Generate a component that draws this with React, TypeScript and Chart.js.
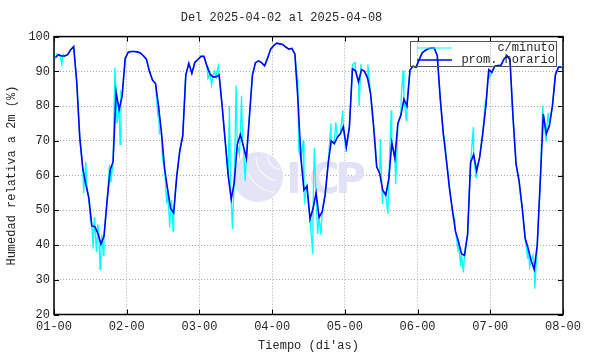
import React, { useEffect, useRef } from "react";
import { Chart, registerables } from "chart.js";

Chart.register(...registerables);

// ---- data ----
const titleText = "Del 2025-04-02 al 2025-04-08";
const xTitle = "Tiempo (di'as)";
const yTitle = "Humedad relativa a 2m (%)";
const dayLabels = ["01-00", "02-00", "03-00", "04-00", "05-00", "06-00", "07-00", "08-00"];
const seriesNames = ["c/minuto", "prom. horario"];

// hourly averages (hour i plotted at i + 0.5)
const horario = [
  // day 1
  94, 94.8, 94.4, 94.4, 94.8, 96.2, 97.1, 87, 71, 62, 57.5, 53.5, 45.5, 45.3, 43.3, 40.3, 42.5, 52.5, 61.5, 64, 84, 79, 83, 93.7,
  // day 2
  95.5, 95.7, 95.7, 95.6, 95.3, 94.5, 93.5, 90, 87.5, 86.5, 80, 72, 62, 56, 50.5, 49.3, 59.7, 67, 71.5, 89, 92.3, 89.4, 92.6, 93.4,
  // day 3
  94.3, 94.3, 91.5, 89.2, 88.4, 88.4, 89, 80, 70, 60, 53.2, 58, 69, 71.8, 68.5, 65, 77, 89, 92.5, 93, 92.5, 91.6, 93.8, 96.4,
  // day 4
  97.4, 98.1, 97.9, 97.7, 97, 96.4, 96.6, 95, 82, 65, 55.8, 57, 47.5, 50.5, 55, 48, 49.5, 54.5, 63.5, 70, 69.2, 71, 72, 74,
  // day 5
  68.3, 74, 90.7, 90.2, 87, 90.5, 90, 88, 83.5, 74, 62.5, 60.6, 55.8, 54.4, 59, 69.5, 65, 75, 77.4, 82, 80, 90.4, 91.5, 91.2,
  // day 6
  93.3, 95.3, 96, 96.5, 96.7, 96.7, 94.5, 82, 72, 64.5, 56.5, 50, 44, 41, 37.5, 37, 43, 63.8, 66, 61.4, 65.3, 72, 79.7, 90.5,
  // day 7
  89.7, 91.5, 91.7, 91.7, 93.5, 94.5, 93.3, 76.8, 63.3, 58.5, 51, 42, 39, 35.5, 33, 40, 58.5, 77.7, 72, 74.4, 80, 89, 91.2, 91.2,
];

// per-minute readings as [hour, value]
const minuto: [number, number][] = [
  [0, 93.2], [0.5, 94], [1, 95], [1.5, 94.8], [2, 94.6], [2.6, 92], [3, 94.8], [3.5, 94.4], [4.5, 94.8], [5.5, 96.2], [6.5, 97.1],
  [7.5, 87], [8.5, 71], [9.5, 62], [9.8, 55], [10.5, 64], [10.8, 57.5], [11.5, 53.5], [12, 47], [12.5, 45.5], [12.9, 39], [13.3, 48],
  [13.5, 45.3], [14, 38], [14.5, 46], [14.8, 43], [15.2, 33], [15.5, 40.3], [15.8, 43], [16.3, 37], [16.5, 42.5], [17.5, 52.5],
  [18.3, 63], [18.5, 61.5], [18.8, 58], [19.5, 64], [20.1, 91], [20.5, 84], [20.8, 75], [21.5, 79], [21.8, 69], [22.1, 84], [22.5, 83], [23.5, 93.7],
  [24.5, 95.5], [25.5, 95.7], [26.5, 95.7], [27.5, 95.6], [28.5, 95.3], [29.5, 94.5], [30.5, 93.5], [31.5, 90], [32.5, 87.5], [33.5, 86.5],
  [34.2, 78], [34.5, 80], [34.8, 72], [35.5, 72], [35.8, 65], [36.5, 62], [37.2, 52], [37.5, 56], [38.2, 45], [38.5, 50.5], [38.8, 53],
  [39.3, 44], [39.5, 49.3], [39.8, 52], [40.5, 59.7], [41.5, 67], [42.5, 71.5], [43.5, 89], [44.5, 92.3], [45.5, 89.4], [46.5, 92.6], [47.5, 93.4],
  [48.5, 94.3], [49.5, 94.3], [50.5, 91.5], [50.8, 88], [51.5, 89.2], [52, 86], [52.5, 88.4], [53, 90], [53.5, 88.4], [54.2, 91.5], [54.5, 89],
  [55.5, 80], [56.5, 70], [57.5, 60], [57.9, 80], [58.3, 55], [58.5, 53.2], [58.9, 44.6], [59.4, 57], [59.5, 58], [60.1, 86], [60.5, 69],
  [61.2, 66], [61.5, 71.8], [61.9, 83], [62.2, 70], [62.5, 68.5], [63.1, 58.5], [63.5, 65], [64.5, 77], [65.5, 89], [66.5, 92.5], [67.5, 93],
  [68.5, 92.5], [69.5, 91.6], [70.5, 93.8], [71.5, 96.4],
  [72.5, 97.4], [73.5, 98.1], [74.5, 97.9], [75.5, 97.7], [76.5, 97], [77.5, 96.4], [78.5, 96.6], [79.5, 95], [80.3, 88], [80.5, 82], [80.8, 67],
  [81.5, 65], [82.2, 70], [82.5, 55.8], [82.7, 52.8], [83.5, 57], [84, 52], [84.5, 47.5], [84.8, 44], [85.4, 37.4], [85.5, 50.5], [85.9, 68],
  [86.5, 55], [87, 43.2], [87.5, 48], [88.1, 43], [88.5, 49.5], [89.5, 54.5], [90.5, 63.5], [91.4, 75], [91.5, 70], [92.5, 69.2], [93, 75.3],
  [93.5, 71], [94.5, 72], [95.3, 78.7], [95.5, 74],
  [96.4, 67], [96.5, 68.3], [97.5, 74], [98.5, 90.7], [98.6, 92], [99.4, 92.5], [99.5, 90.2], [100.5, 87], [100.7, 80], [101.3, 92], [101.5, 90.5],
  [102.5, 90], [103.5, 88], [103.6, 92], [104.5, 83.5], [105.5, 74], [106, 70], [106.5, 62.5], [107.5, 60.6], [107.7, 70.5], [108.4, 52],
  [108.5, 55.8], [109.5, 54.4], [110.2, 49], [110.5, 59], [111.3, 78.7], [111.5, 69.5], [112.5, 65], [112.8, 57.6], [113.5, 75], [114.5, 77.4],
  [114.6, 82.5], [115.2, 90.2], [115.5, 82], [116.3, 75.8], [116.5, 80], [117.5, 90.4], [118.5, 91.5], [119.5, 91.2],
  [120.5, 93.3], [121.5, 95.3], [122.5, 96], [123.5, 96.5], [124.5, 96.7], [125.5, 96.7], [126.5, 94.5], [127.5, 82], [128.5, 72], [129, 70],
  [129.5, 64.5], [130.2, 60], [130.5, 56.5], [131.5, 50], [132.3, 47], [132.5, 44], [133.3, 39], [133.5, 41], [134.2, 34], [134.5, 37.5],
  [135.1, 32.2], [135.5, 37], [135.8, 40], [136.5, 43], [137.5, 63.8], [138.4, 73.9], [138.5, 66], [139.3, 59.5], [139.5, 61.4], [140.5, 65.3],
  [141.5, 72], [142.3, 80.6], [142.5, 79.7], [143.5, 90.5], [143.8, 88.3],
  [144.5, 89.7], [145.5, 91.5], [146.5, 91.7], [147.5, 91.7], [148.5, 93.5], [149.5, 94.5], [150.5, 93.3], [151.5, 76.8], [152.2, 68], [152.5, 63.3],
  [153.5, 58.5], [154, 54], [154.5, 51], [155.2, 45], [155.5, 42], [156.4, 36], [156.5, 39], [157, 33.6], [157.5, 35.5], [158.1, 37], [158.5, 33],
  [158.7, 27.4], [159.5, 40], [160.5, 58.5], [161.3, 80], [161.5, 77.7], [162.4, 70], [162.5, 72], [163.1, 78], [163.5, 74.4], [164.5, 80],
  [165.5, 89], [166.5, 91.2], [167.5, 91.2], [168, 90.5],
];

const FONT_FAMILY = "'Liberation Mono', 'DejaVu Sans Mono', monospace";
const TEXT_COLOR = "#262626";

const bgPlugin = {
  id: "bg",
  beforeDraw(chart: any) {
    const ctx = chart.ctx;
    ctx.save();
    ctx.fillStyle = "#ffffff";
    ctx.fillRect(0, 0, chart.width, chart.height);
    ctx.restore();
  },
};

const watermarkPlugin = {
  id: "watermark",
  beforeDatasetsDraw(chart: any) {
    const ctx = chart.ctx;
    ctx.save();
    const cx = 258, cy = 177, r = 25;
    ctx.fillStyle = "#e4e4f7";
    ctx.beginPath();
    ctx.arc(cx, cy, r, 0, Math.PI * 2);
    ctx.fill();
    ctx.strokeStyle = "#f4f4fc";
    ctx.lineWidth = 1.5;
    ctx.beginPath();
    ctx.arc(cx + 22, cy - 20, 24, Math.PI * 0.55, Math.PI * 1.0);
    ctx.stroke();
    ctx.beginPath();
    ctx.arc(cx + 22, cy - 20, 36, Math.PI * 0.55, Math.PI * 0.95);
    ctx.stroke();
    ctx.beginPath();
    ctx.arc(cx + 22, cy - 20, 12, Math.PI * 0.5, Math.PI * 1.1);
    ctx.stroke();
    ctx.fillStyle = "#e2e2f6";
    ctx.font = "bold 42px 'DejaVu Sans', sans-serif";
    ctx.textBaseline = "alphabetic";
    ctx.textAlign = "left";
    ctx.fillText("I", 286, 193);
    ctx.fillText("C", 309, 193);
    ctx.fillText("P", 335, 193);
    ctx.restore();
  },
};

const framePlugin = {
  id: "frame",
  afterDatasetsDraw(chart: any) {
    const ctx = chart.ctx;
    const { left, right, top, bottom } = chart.chartArea;
    const xs = chart.scales.x;
    const ys = chart.scales.y;
    ctx.save();
    ctx.strokeStyle = "#000000";
    ctx.lineWidth = 1.5;
    ctx.strokeRect(left, top, right - left, bottom - top);
    ctx.lineWidth = 1;
    ctx.beginPath();
    const tl = 5;
    xs.ticks.forEach((t: any) => {
      const px = Math.round(xs.getPixelForValue(t.value)) + 0.5;
      ctx.moveTo(px, bottom);
      ctx.lineTo(px, bottom - tl);
      ctx.moveTo(px, top);
      ctx.lineTo(px, top + tl);
    });
    ys.ticks.forEach((t: any) => {
      const py = Math.round(ys.getPixelForValue(t.value)) + 0.5;
      ctx.moveTo(left, py);
      ctx.lineTo(left + tl, py);
      ctx.moveTo(right, py);
      ctx.lineTo(right - tl, py);
    });
    ctx.stroke();
    ctx.restore();
  },
};

const legendPlugin = {
  id: "customLegend",
  afterDatasetsDraw(chart: any) {
    const ctx = chart.ctx;
    ctx.save();
    ctx.strokeStyle = "#555555";
    ctx.lineWidth = 1;
    ctx.strokeRect(410.5, 41.5, 146, 25);
    ctx.font = `12px ${FONT_FAMILY}`;
    ctx.fillStyle = TEXT_COLOR;
    ctx.textAlign = "right";
    ctx.textBaseline = "middle";
    const rows = [
      { label: chart.data.datasets[1].label, color: chart.data.datasets[1].borderColor, w: 1, y: 48 },
      { label: chart.data.datasets[0].label, color: chart.data.datasets[0].borderColor, w: 1.6, y: 60 },
    ];
    rows.forEach((r) => {
      ctx.strokeStyle = r.color;
      ctx.lineWidth = r.w;
      ctx.beginPath();
      ctx.moveTo(417, r.y);
      ctx.lineTo(452, r.y);
      ctx.stroke();
      ctx.fillText(r.label, 555, r.y);
    });
    ctx.restore();
  },
};

export default function App() {
  const canvasRef = useRef<HTMLCanvasElement | null>(null);

  useEffect(() => {
    const canvas = canvasRef.current;
    if (!canvas) return;
    const font = { family: FONT_FAMILY, size: 12 };
    const chart = new Chart(canvas, {
      type: "line",
      data: {
        datasets: [
          {
            label: seriesNames[1],
            data: horario.map((v, i) => ({ x: i + 0.5, y: v })),
            borderColor: "#0000ff",
            borderWidth: 1.6,
            pointRadius: 0,
            tension: 0,
            order: 1,
          },
          {
            label: seriesNames[0],
            data: minuto.map(([h, v]) => ({ x: h, y: v })),
            borderColor: "#00ffff",
            borderWidth: 1.3,
            pointRadius: 0,
            tension: 0,
            order: 2,
          },
        ],
      },
      options: {
        responsive: false,
        animation: false,
        devicePixelRatio: 1,
        layout: { padding: { left: 0, right: 27, top: 0, bottom: 0 } },
        plugins: {
          legend: { display: false },
          tooltip: { enabled: false },
          title: {
            display: true,
            text: titleText,
            font: { ...font, weight: "normal" },
            color: TEXT_COLOR,
            padding: { top: 10.5, bottom: 11.7 },
          },
        },
        scales: {
          x: {
            type: "linear",
            min: 0,
            max: 168,
            ticks: {
              stepSize: 24,
              autoSkip: false,
              maxRotation: 0,
              font,
              color: TEXT_COLOR,
              padding: 5,
              callback: (v: any) => dayLabels[Math.round(Number(v) / 24)] ?? "",
            },
            grid: { color: "#a8a8a8", lineWidth: 1, drawTicks: false },
            border: { display: false, dash: [1, 2] },
            title: { display: true, text: xTitle, font, color: TEXT_COLOR, padding: { top: 0, bottom: 1 } },
            afterFit: (scale: any) => {
              scale.height = 39.5;
            },
          },
          y: {
            min: 20,
            max: 100,
            ticks: { stepSize: 10, font, color: TEXT_COLOR, padding: 4 },
            grid: { color: "#a8a8a8", lineWidth: 1, drawTicks: false },
            border: { display: false, dash: [1, 2] },
            title: { display: true, text: yTitle, font, color: TEXT_COLOR, padding: { top: 5, bottom: 0 } },
            afterFit: (scale: any) => {
              scale.width = 54;
            },
          },
        },
      },
      plugins: [bgPlugin, watermarkPlugin, framePlugin, legendPlugin],
    } as any);
    return () => chart.destroy();
  }, []);

  return (
    <div style={{ position: "absolute", left: 0, top: 0, width: 590, height: 354, background: "#fff" }}>
      <canvas ref={canvasRef} width={590} height={354} style={{ display: "block", width: 590, height: 354 }} />
    </div>
  );
}
